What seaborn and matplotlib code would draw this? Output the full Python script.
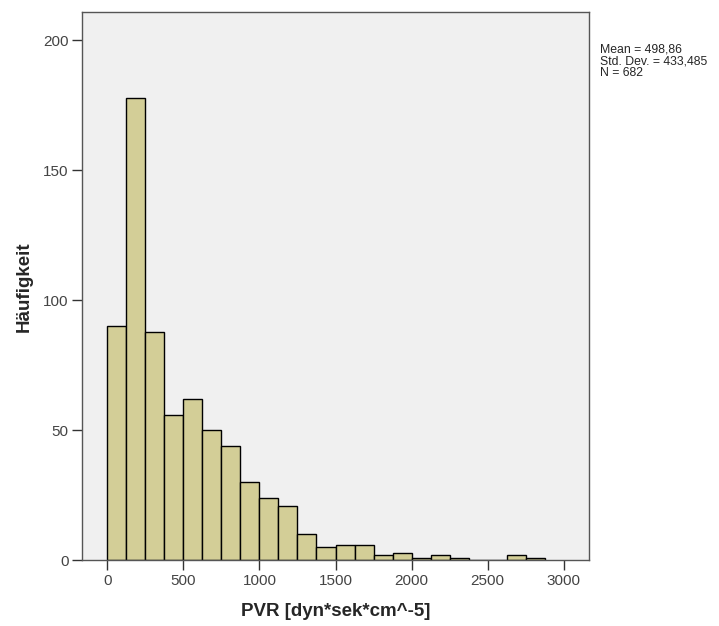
import numpy as np
import pandas as pd
import seaborn as sns
import matplotlib.pyplot as plt

# Histogrammdaten (Klassenbreite 125)
bin_edges = [0, 125, 250, 375, 500, 625, 750, 875, 1000, 1125, 1250, 1375, 1500,
             1625, 1750, 1875, 2000, 2125, 2250, 2375, 2500, 2625, 2750, 2875]
counts = [90, 178, 88, 56, 62, 50, 44, 30, 24, 21, 10, 5, 6, 6, 2, 3, 1, 2, 1,
          0, 0, 2, 1]
x_ticks = [0, 500, 1000, 1500, 2000, 2500, 3000]
y_ticks = [0, 50, 100, 150, 200]

df = pd.DataFrame({
    "mitte": [(a + b) / 2 for a, b in zip(bin_edges[:-1], bin_edges[1:])],
    "anzahl": counts,
})

sns.set_style("white")
plt.rcParams['font.family'] = ['Liberation Sans', 'DejaVu Sans']

fig = plt.figure(figsize=(7.19, 6.26), dpi=100)
ax = fig.add_axes([0.1145, 0.1049, 0.7047, 0.8755])
ax.set_facecolor("#F0F0F0")

sns.histplot(data=df, x="mitte", weights="anzahl", bins=bin_edges, ax=ax,
             color="#D3CE97", alpha=1, edgecolor="black", linewidth=1)

ax.set_xlim(-164, 3166)
ax.set_ylim(0, 210.8)
ax.set_xticks(x_ticks)
ax.set_yticks(y_ticks)
ax.tick_params(axis="both", direction="out", length=7, width=1, color="#333333",
               labelsize=11, labelcolor="#444444", left=True, bottom=True, pad=3)
for s in ax.spines.values():
    s.set_color("#555555")
    s.set_linewidth(1)

ax.set_xlabel("PVR [dyn*sek*cm^-5]", fontsize=13.5, fontweight="bold", labelpad=11)
ax.set_ylabel("Häufigkeit", fontsize=13.5, fontweight="bold", labelpad=7)

fig.text(0.834, 0.930, "Mean = 498,86\nStd. Dev. = 433,485\nN = 682",
         fontsize=8.8, va="top", ha="left", linespacing=0.98)

fig.savefig("out.png", dpi=100)
